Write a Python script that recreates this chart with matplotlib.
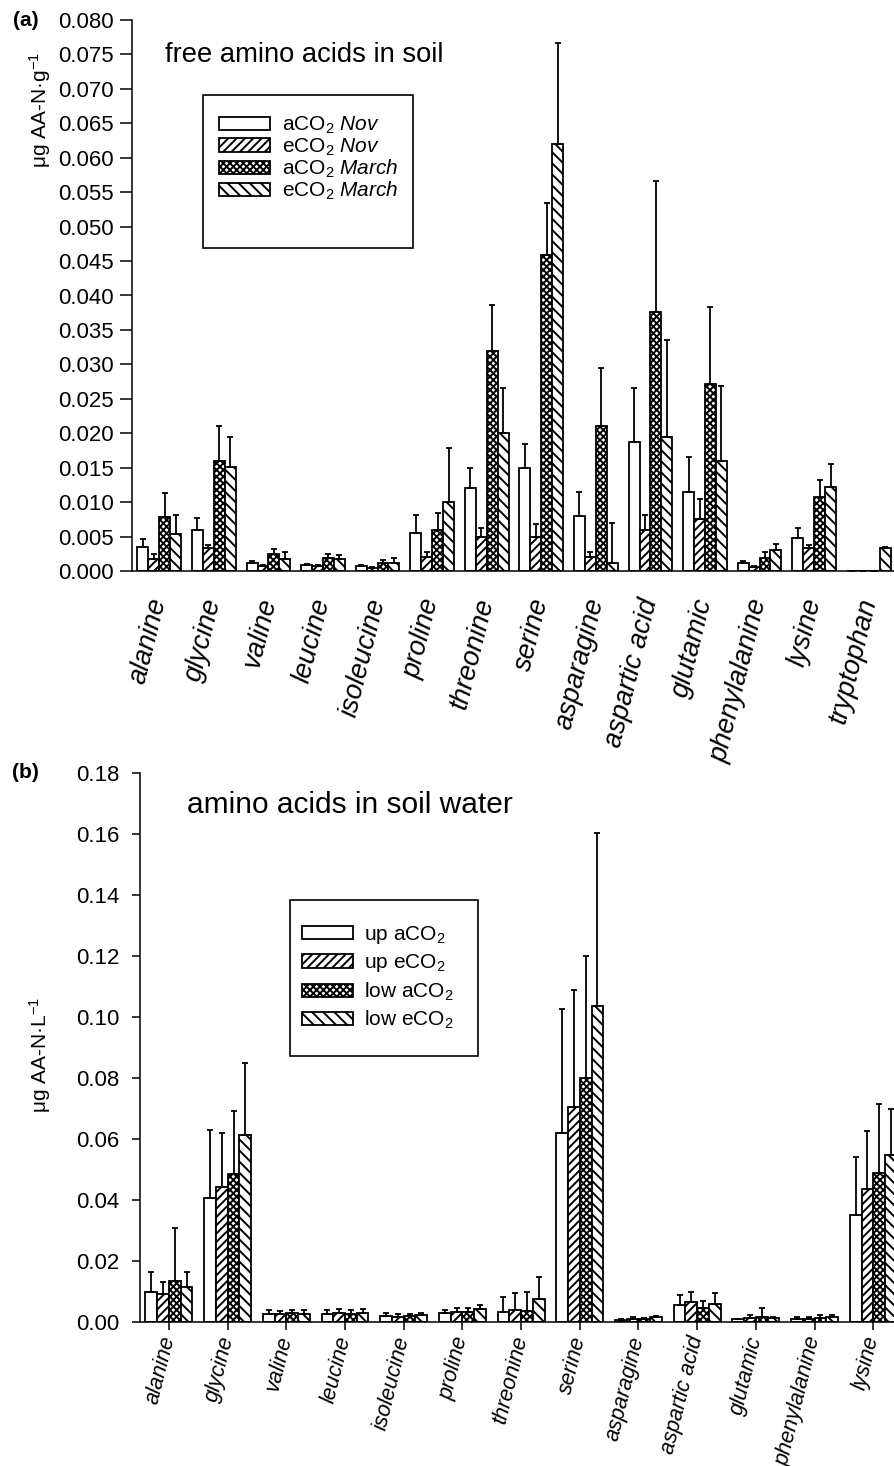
import numpy as np
import matplotlib
matplotlib.use("Agg")
import matplotlib.pyplot as plt
from matplotlib.patches import Rectangle

plt.rcParams['font.family'] = ['Liberation Sans', 'DejaVu Sans']
plt.rcParams['mathtext.fontset'] = 'custom'
plt.rcParams['mathtext.rm'] = 'Liberation Sans'
plt.rcParams['mathtext.it'] = 'Liberation Sans:italic'
plt.rcParams['hatch.linewidth'] = 1.4

# ---------- panel (a): free amino acids in soil ----------
names_a = ["alanine", "glycine", "valine", "leucine", "isoleucine", "proline",
           "threonine", "serine", "asparagine", "aspartic acid", "glutamic",
           "phenylalanine", "lysine", "tryptophan"]
labels_a = ["aCO$_2$ $\\it{Nov}$", "eCO$_2$ $\\it{Nov}$",
            "aCO$_2$ $\\it{March}$", "eCO$_2$ $\\it{March}$"]

a_nov_a = [0.0035, 0.0060, 0.0012, 0.0009, 0.0007, 0.0055, 0.0121, 0.0150, 0.0080, 0.0188, 0.0115, 0.0012, 0.0048, 0.0]
a_nov_e = [0.0018, 0.0033, 0.0007, 0.0007, 0.0005, 0.0020, 0.0050, 0.0050, 0.0020, 0.0060, 0.0076, 0.0006, 0.0034, 0.0]
a_mar_a = [0.0079, 0.0160, 0.0024, 0.0019, 0.0011, 0.0060, 0.0319, 0.0459, 0.0210, 0.0376, 0.0272, 0.0019, 0.0108, 0.0]
a_mar_e = [0.0054, 0.0151, 0.0018, 0.0018, 0.0011, 0.0100, 0.0200, 0.0620, 0.0011, 0.0195, 0.0160, 0.0031, 0.0122, 0.0034]

se_nov_a = [0.0012, 0.0017, 0.0003, 0.0001, 0.0001, 0.0027, 0.0029, 0.0035, 0.0035, 0.0078, 0.0050, 0.0002, 0.0014, np.nan]
se_nov_e = [0.0006, 0.0005, 0.0001, 0.0001, 0.0001, 0.0007, 0.0013, 0.0018, 0.0007, 0.0022, 0.0028, 0.0001, 0.0004, np.nan]
se_mar_a = [0.0034, 0.0051, 0.0008, 0.0005, 0.0005, 0.0024, 0.0067, 0.0076, 0.0085, 0.0190, 0.0112, 0.0008, 0.0024, np.nan]
se_mar_e = [0.0028, 0.0044, 0.0009, 0.0005, 0.0008, 0.0078, 0.0065, 0.0146, 0.0058, 0.0141, 0.0108, 0.0008, 0.0033, 0.0001]

# ---------- panel (b): amino acids in soil water ----------
names_b = ["alanine", "glycine", "valine", "leucine", "isoleucine", "proline",
           "threonine", "serine", "asparagine", "aspartic acid", "glutamic",
           "phenylalanine", "lysine"]
labels_b = ["up aCO$_2$", "up eCO$_2$", "low aCO$_2$", "low eCO$_2$"]

b_up_a = [0.0097, 0.0408, 0.0025, 0.0026, 0.0019, 0.0030, 0.0032, 0.0619, 0.0008, 0.0057, 0.0009, 0.0011, 0.0351]
b_up_e = [0.0091, 0.0443, 0.0025, 0.0030, 0.0018, 0.0034, 0.0040, 0.0706, 0.0010, 0.0064, 0.0012, 0.0011, 0.0437]
b_low_a = [0.0135, 0.0484, 0.0028, 0.0027, 0.0019, 0.0032, 0.0036, 0.0801, 0.0010, 0.0047, 0.0017, 0.0012, 0.0488]
b_low_e = [0.0115, 0.0614, 0.0027, 0.0030, 0.0022, 0.0043, 0.0075, 0.1037, 0.0016, 0.0060, 0.0012, 0.0016, 0.0548]

se_up_a = [0.0068, 0.0223, 0.0013, 0.0012, 0.0009, 0.0010, 0.0050, 0.0407, 0.0003, 0.0030, 0.0002, 0.0005, 0.0191]
se_up_e = [0.0039, 0.0177, 0.0010, 0.0012, 0.0008, 0.0013, 0.0056, 0.0384, 0.0006, 0.0036, 0.0011, 0.0005, 0.0189]
se_low_a = [0.0172, 0.0208, 0.0012, 0.0011, 0.0008, 0.0015, 0.0064, 0.0399, 0.0003, 0.0022, 0.0029, 0.0010, 0.0228]
se_low_e = [0.0050, 0.0236, 0.0013, 0.0011, 0.0006, 0.0014, 0.0072, 0.0567, 0.0004, 0.0035, 0.0006, 0.0006, 0.0150]

hatches = ["", "////", "xxxxx", "\\\\\\"]

W, H = 895, 1466
fig = plt.figure(figsize=(W / 100, H / 100), dpi=100)


def draw_panel(ax, names, series, errors, labels, xfont):
    x = np.arange(len(names))
    w = 0.2
    handles = []
    for j in range(4):
        pos = x + (j - 1.5) * w
        h = ax.bar(pos, series[j], w, facecolor="white", edgecolor="black",
                   hatch=hatches[j], linewidth=1.3, label=labels[j], zorder=2)
        handles.append(h)
        err = np.array(errors[j], dtype=float)
        ax.errorbar(pos, series[j], yerr=[np.zeros_like(err), err], fmt="none",
                    ecolor="black", elinewidth=1.3, capsize=2.5, capthick=1.3, zorder=3)
    ax.set_xlim(-0.5, len(names) - 0.5)
    ax.set_xticks(x)
    ax.set_xticklabels(names, rotation=76, ha="right", va="center",
                       rotation_mode="anchor", style="italic", fontsize=xfont)
    for s in ["top", "right"]:
        ax.spines[s].set_visible(False)
    for s in ["left", "bottom"]:
        ax.spines[s].set_linewidth(1.1)
    return handles


# panel (a)
ax1 = fig.add_axes([132 / W, 1 - 571 / H, 764 / W, 551 / H])
h1 = draw_panel(ax1, names_a, [a_nov_a, a_nov_e, a_mar_a, a_mar_e],
                [se_nov_a, se_nov_e, se_mar_a, se_mar_e], labels_a, 19.5)
ax1.set_ylim(0, 0.080)
ax1.set_yticks(np.arange(0, 0.0801, 0.005))
ax1.set_yticklabels(["%.3f" % v for v in np.arange(0, 0.0801, 0.005)])
ax1.tick_params(axis="y", direction="out", length=9, width=1.1, pad=4, labelsize=16)
ax1.tick_params(axis="x", length=0, pad=20)
fig.text(165 / W, 1 - 55 / H, "free amino acids in soil", fontsize=19.7,
         va="center", ha="left")
fig.text(40 / W, 1 - 110 / H, "μg AA-N·g$^{-1}$", rotation=90, ha="center",
         va="center", fontsize=15)
fig.text(13 / W, 1 - 20 / H, "(a)", fontweight="bold", fontsize=15, ha="left", va="center")

ax1.legend(handles=h1, loc="upper left", bbox_to_anchor=(219 / W, 1 - 115 / H),
           bbox_transform=fig.transFigure, frameon=False, fontsize=15,
           handlelength=2.45, handleheight=0.6, handletextpad=0.55,
           labelspacing=0.0, borderpad=0, borderaxespad=0)
fig.add_artist(Rectangle((203 / W, 1 - 248 / H), 210 / W, 153 / H,
                         transform=fig.transFigure, fill=False, lw=1.2, ec="black"))

# panel (b)
ax2 = fig.add_axes([139.6 / W, 1 - 1322 / H, 763 / W, 549 / H])
h2 = draw_panel(ax2, names_b, [b_up_a, b_up_e, b_low_a, b_low_e],
                [se_up_a, se_up_e, se_low_a, se_low_e], labels_b, 15.5)
ax2.set_ylim(0, 0.18)
ax2.set_yticks(np.arange(0, 0.181, 0.02))
ax2.set_yticklabels(["%.2f" % v for v in np.arange(0, 0.181, 0.02)])
ax2.tick_params(axis="y", direction="out", length=5.5, width=1.1, pad=9, labelsize=16)
ax2.tick_params(axis="x", direction="out", length=5.5, width=1.1, pad=5)
fig.text(187 / W, 1 - 805 / H, "amino acids in soil water", fontsize=21.5,
         va="center", ha="left")
fig.text(40 / W, 1 - 1055 / H, "μg AA-N·L$^{-1}$", rotation=90, ha="center",
         va="center", fontsize=15)
fig.text(12 / W, 1 - 773 / H, "(b)", fontweight="bold", fontsize=15, ha="left", va="center")

ax2.legend(handles=h2, loc="upper left", bbox_to_anchor=(302 / W, 1 - 924 / H),
           bbox_transform=fig.transFigure, frameon=False, fontsize=15,
           handlelength=2.45, handleheight=0.6, handletextpad=0.55,
           labelspacing=0.3, borderpad=0, borderaxespad=0)
fig.add_artist(Rectangle((290 / W, 1 - 1056 / H), 188 / W, 156 / H,
                         transform=fig.transFigure, fill=False, lw=1.2, ec="black"))

fig.savefig("out.png", dpi=100)
plt.close(fig)
